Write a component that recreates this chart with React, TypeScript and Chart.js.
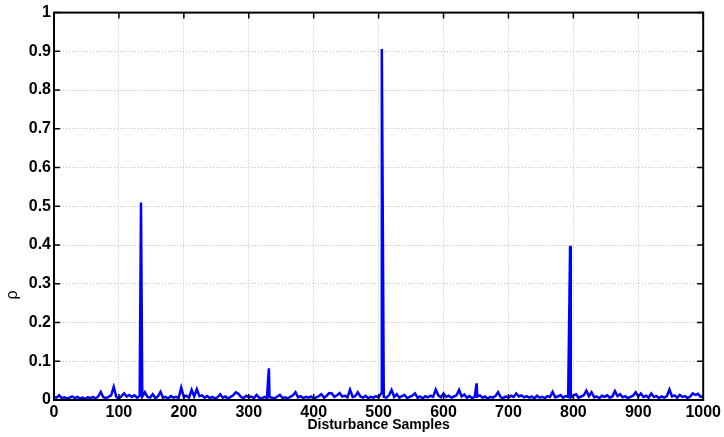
import React, { useEffect, useRef } from "react";
import { Chart, registerables } from "chart.js";

Chart.register(...registerables);

const xTickValues = [0, 100, 200, 300, 400, 500, 600, 700, 800, 900, 1000];
const yTickValues = [0, 0.1, 0.2, 0.3, 0.4, 0.5, 0.6, 0.7, 0.8, 0.9, 1];
const xTitle = "Disturbance Samples";
const yTitle = "ρ";

// background correlation, one value every 4 samples (0..1000)
const noiseStep = 4;
const noiseRho = [
  0.008, 0.006, 0.012, 0.005, 0.007, 0.004, 0.006, 0.009, 0.005, 0.008,
  0.004, 0.006, 0.003, 0.007, 0.005, 0.008, 0.004, 0.009, 0.021, 0.007,
  0.005, 0.008, 0.012, 0.034, 0.008, 0.004, 0.010, 0.017, 0.009, 0.013,
  0.008, 0.012, 0.006, 0.010, 0.009, 0.020, 0.008, 0.006, 0.015, 0.005,
  0.009, 0.021, 0.006, 0.008, 0.004, 0.010, 0.006, 0.008, 0.005, 0.032,
  0.007, 0.011, 0.006, 0.026, 0.009, 0.028, 0.010, 0.012, 0.006, 0.010,
  0.005, 0.008, 0.004, 0.007, 0.015, 0.006, 0.009, 0.004, 0.008, 0.012,
  0.020, 0.016, 0.008, 0.005, 0.011, 0.007, 0.009, 0.005, 0.013, 0.006,
  0.004, 0.008, 0.005, 0.007, 0.006, 0.004, 0.009, 0.013, 0.005, 0.007,
  0.004, 0.008, 0.012, 0.020, 0.007, 0.010, 0.005, 0.008, 0.006, 0.009,
  0.004, 0.007, 0.010, 0.015, 0.006, 0.011, 0.018, 0.017, 0.008, 0.012,
  0.018, 0.009, 0.011, 0.007, 0.027, 0.008, 0.010, 0.020, 0.009, 0.006,
  0.011, 0.005, 0.008, 0.006, 0.010, 0.007, 0.017, 0.008, 0.006, 0.012,
  0.026, 0.008, 0.015, 0.006, 0.010, 0.013, 0.005, 0.008, 0.011, 0.017,
  0.006, 0.009, 0.004, 0.010, 0.007, 0.011, 0.008, 0.027, 0.012, 0.007,
  0.017, 0.008, 0.011, 0.006, 0.009, 0.012, 0.026, 0.009, 0.014, 0.006,
  0.010, 0.005, 0.008, 0.009, 0.012, 0.006, 0.009, 0.004, 0.008, 0.006,
  0.010, 0.020, 0.007, 0.005, 0.009, 0.006, 0.011, 0.008, 0.017, 0.009,
  0.012, 0.007, 0.010, 0.006, 0.009, 0.004, 0.011, 0.006, 0.008, 0.005,
  0.010, 0.008, 0.021, 0.007, 0.009, 0.013, 0.006, 0.010, 0.008, 0.007,
  0.011, 0.015, 0.006, 0.009, 0.012, 0.024, 0.010, 0.020, 0.007, 0.009,
  0.005, 0.011, 0.008, 0.012, 0.006, 0.009, 0.023, 0.010, 0.015, 0.007,
  0.010, 0.005, 0.008, 0.011, 0.020, 0.009, 0.017, 0.008, 0.011, 0.006,
  0.017, 0.008, 0.010, 0.005, 0.009, 0.006, 0.010, 0.027, 0.009, 0.012,
  0.006, 0.013, 0.008, 0.010, 0.005, 0.009, 0.017, 0.013, 0.016, 0.008,
  0.010,
];

// isolated peaks
const peakSamples = [134, 331, 505, 651, 795];
const peakRho = [0.51, 0.082, 0.906, 0.043, 0.398];

const FONT = "'Liberation Sans', Arial, Helvetica, sans-serif";

const boxPlugin = {
  id: "matlabBox",
  afterDraw(chart: any) {
    const { ctx, chartArea } = chart;
    const { left, right, top, bottom } = chartArea;
    const xs = chart.scales.x;
    const ys = chart.scales.y;
    const tl = 6;
    ctx.save();
    ctx.strokeStyle = "#000";
    ctx.lineWidth = 1.5;
    ctx.beginPath();
    xTickValues.forEach((v) => {
      const px = xs.getPixelForValue(v);
      ctx.moveTo(px, bottom);
      ctx.lineTo(px, bottom - tl);
      ctx.moveTo(px, top);
      ctx.lineTo(px, top + tl);
    });
    yTickValues.forEach((v) => {
      const py = ys.getPixelForValue(v);
      ctx.moveTo(left, py);
      ctx.lineTo(left + tl, py);
      ctx.moveTo(right, py);
      ctx.lineTo(right - tl, py);
    });
    ctx.stroke();
    ctx.lineWidth = 2;
    ctx.strokeRect(left, top, right - left, bottom - top);
    // y label
    ctx.translate(13, 295);
    ctx.rotate(-Math.PI / 2);
    ctx.fillStyle = "#000";
    ctx.font = `16px ${FONT}`;
    ctx.textAlign = "center";
    ctx.textBaseline = "middle";
    ctx.fillText(yTitle, 0, 0);
    ctx.restore();
  },
};

export default function App() {
  const ref = useRef<HTMLCanvasElement | null>(null);

  useEffect(() => {
    if (!ref.current) return;
    const pts = noiseRho
      .map((v, i) => ({ x: i * noiseStep, y: v }))
      .concat(peakSamples.map((s, i) => ({ x: s, y: peakRho[i] })))
      .sort((a, b) => a.x - b.x);

    const gridCommon = {
      color: "#c0c0c0",
      lineWidth: 1,
      drawTicks: false,
    };

    const chart = new Chart(ref.current, {
      type: "line",
      data: {
        datasets: [
          {
            data: pts,
            borderColor: "#0000ff",
            borderWidth: 2.5,
            pointRadius: 0,
            tension: 0,
            fill: false,
          },
        ],
      },
      options: {
        animation: false,
        responsive: true,
        maintainAspectRatio: false,
        parsing: false as any,
        layout: { padding: { left: 0, right: 20, top: 9, bottom: 0 } },
        plugins: {
          legend: { display: false },
          tooltip: { enabled: false },
        },
        scales: {
          x: {
            type: "linear",
            min: 0,
            max: 1000,
            afterBuildTicks: (s: any) => {
              s.ticks = xTickValues.map((v) => ({ value: v }));
            },
            afterFit: (s: any) => {
              s.height = 37;
            },
            grid: gridCommon,
            border: { display: false, dash: [1, 2] },
            ticks: {
              autoSkip: false,
              maxRotation: 0,
              padding: 3,
              color: "#000",
              font: { size: 16, weight: "bold", family: FONT },
              callback: (v: any) => String(v),
            },
            title: {
              display: true,
              text: xTitle,
              color: "#000",
              font: { size: 14, weight: "bold", family: FONT },
              padding: { top: 0, bottom: 3 },
            },
          },
          y: {
            type: "linear",
            min: 0,
            max: 1,
            afterBuildTicks: (s: any) => {
              s.ticks = yTickValues.map((v) => ({ value: v }));
            },
            afterFit: (s: any) => {
              s.width = 54;
            },
            grid: gridCommon,
            border: { display: false, dash: [1, 2] },
            ticks: {
              autoSkip: false,
              padding: 3,
              color: "#000",
              font: { size: 16, weight: "bold", family: FONT },
              callback: (v: any) => String(v),
            },
          },
        },
      } as any,
      plugins: [boxPlugin],
    });
    return () => chart.destroy();
  }, []);

  return (
    <div
      style={{
        position: "fixed",
        left: 0,
        top: 0,
        width: 724,
        height: 437,
        background: "#fff",
      }}
    >
      <canvas ref={ref} />
    </div>
  );
}
